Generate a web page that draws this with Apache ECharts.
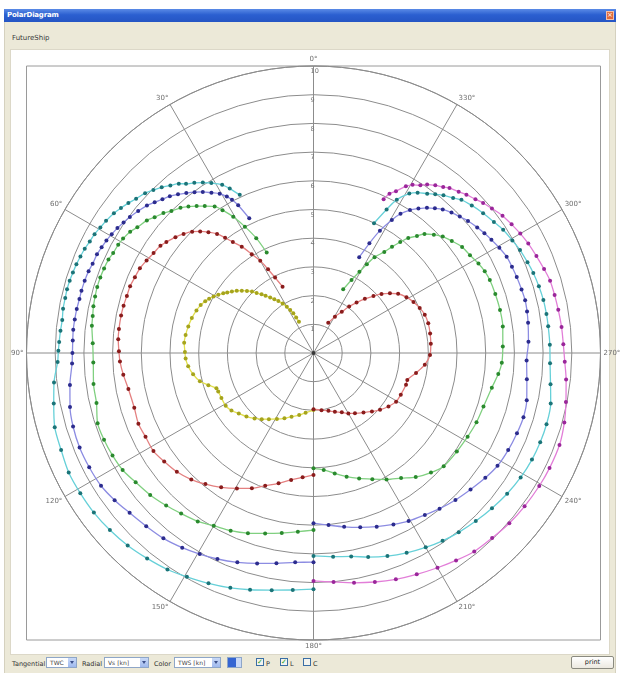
<!DOCTYPE html>
<html>
<head>
<meta charset="utf-8">
<title>PolarDiagram</title>
<script src="https://cdn.jsdelivr.net/npm/echarts@6/dist/echarts.min.js"></script>
<style>
  html, body { margin: 0; padding: 0; width: 620px; height: 673px; overflow: hidden; background: #ffffff;
    font-family: "DejaVu Sans", "Liberation Sans", sans-serif; }
  .abs { position: absolute; }
  #win { left: 4px; top: 9px; width: 612px; height: 664px; background: #ece9d8; border-left: 1px solid #d5d1bf; border-right: 1px solid #d5d1bf; box-sizing: border-box; }
  #titlebar { left: 4px; top: 9px; width: 612px; height: 13px; background: linear-gradient(#5a8ae6, #2b5fd0 45%, #2555c4); }
  #titletext { left: 7px; top: 11px; font-size: 7px; font-weight: bold; color: #ffffff; letter-spacing: -0.2px; }
  #close { left: 606px; top: 11px; width: 8px; height: 9px; background: #e06a3c; border: 1px solid #f4c0a8; box-sizing: border-box; color: #fff; font-size: 7px; line-height: 7px; text-align: center; }
  #ship { left: 12px; top: 34px; font-size: 7px; color: #3a3a3a; }
  #panel { left: 10px; top: 49px; width: 600px; height: 606px; background: #ffffff; border: 1px solid #dcd8c8; box-sizing: border-box; }
  .lbl { font-size: 6.5px; color: #333; top: 660px; }
  .combo { top: 657px; height: 11px; background: #fff; border: 1px solid #8ea6c8; box-sizing: border-box; font-size: 6px; color: #444; line-height: 9px; padding-left: 3px; }
  .combo .btn { position: absolute; right: 0; top: 0; width: 8px; height: 9px; background: linear-gradient(#c9d9f7, #9fb9ee); }
  .combo .btn:after { content: ""; position: absolute; left: 2px; top: 3px; border-left: 2px solid transparent; border-right: 2px solid transparent; border-top: 3px solid #3b4f8a; }
  .chk { top: 658px; width: 8px; height: 8px; border: 1px solid #3a6ea5; box-sizing: border-box; background: #f3f3ee; font-size: 7px; line-height: 6px; color: #21a121; text-align: center; }
  #spin { left: 227px; top: 657px; width: 15px; height: 11px; border: 1px solid #8ea6c8; box-sizing: border-box; background: #fff; }
  #spin .sel { position: absolute; left: 0; top: 0; width: 8px; height: 9px; background: #3565d2; }
  #spin .arr { position: absolute; right: 0; top: 0; width: 5px; height: 9px; background: #c9d9f7; }
  #print { left: 571px; top: 656px; width: 43px; height: 13px; border: 1px solid #8a8a80; border-radius: 2px; box-sizing: border-box; background: linear-gradient(#ffffff, #ece9e0); font-size: 6.5px; line-height: 11px; text-align: center; color: #222; }
  #chart { position: absolute; left: 0; top: 0; width: 620px; height: 673px; z-index: 5; }
</style>
</head>
<body>
<div id="win" class="abs"></div>
<div id="titlebar" class="abs"></div>
<div id="titletext" class="abs">PolarDiagram</div>
<div id="close" class="abs">×</div>
<div id="ship" class="abs">FutureShip</div>
<div id="panel" class="abs"></div>

<div class="abs lbl" style="left:12px;">Tangential</div>
<div class="abs combo" style="left:46px;width:31px;">TWC<div class="btn"></div></div>
<div class="abs lbl" style="left:82px;">Radial</div>
<div class="abs combo" style="left:104px;width:45px;">Vs [kn]<div class="btn"></div></div>
<div class="abs lbl" style="left:154px;">Color</div>
<div class="abs combo" style="left:174px;width:47px;">TWS [kn]<div class="btn"></div></div>
<div id="spin" class="abs"><div class="sel"></div><div class="arr"></div></div>
<div class="abs chk" style="left:256px;">✓</div><div class="abs lbl" style="left:266px;">P</div>
<div class="abs chk" style="left:280px;">✓</div><div class="abs lbl" style="left:290px;">L</div>
<div class="abs chk" style="left:303px;"></div><div class="abs lbl" style="left:313px;">C</div>
<div id="print" class="abs">print</div>

<div id="chart"></div>

<script>
// Polar performance curves: each entry is [true wind angle (deg), boat speed Vs (kn)].
// Port side (0-180 deg), one curve per wind speed.
const portYellow = [[25,1.2],[26,1.38],[27,1.55],[28.5,1.7],[30,1.86],[32,2.03],[34,2.19],[36,2.32],[38,2.45],[40,2.6],[41.5,2.73],[43.5,2.88],[45,3.03],[47,3.17],[49,3.31],[51,3.44],[53,3.56],[55,3.67],[56.5,3.77],[58.5,3.89],[60.5,4.0],[62.5,4.1],[64.5,4.18],[67,4.27],[70,4.34],[74,4.41],[78,4.46],[82,4.5],[85.5,4.52],[89.5,4.48],[92.5,4.46],[96,4.39],[100,4.26],[104,4.08],[107,3.83],[110,3.6],[112,3.58],[116,3.57],[121,3.57],[125,3.49],[129,3.35],[133.5,3.22],[138,3.07],[142,2.93],[146,2.78],[151,2.63],[156,2.49],[161,2.35],[167,2.22],[172.5,2.1],[180,1.99]];
const portRed = [[25,2.55],[27,2.95],[28.5,3.32],[30,3.71],[32,4.06],[34,4.47],[36,4.78],[37.5,5.06],[39,5.34],[41,5.58],[43,5.79],[45,5.98],[47.5,6.14],[50,6.28],[53,6.42],[55,6.51],[58,6.57],[61,6.65],[64,6.73],[67,6.76],[70,6.8],[73,6.8],[76,6.82],[79,6.83],[83,6.83],[86,6.82],[89.5,6.78],[92.5,6.75],[96.5,6.67],[101,6.57],[107,6.53],[112,6.58],[116.5,6.54],[121.5,6.54],[126,6.43],[131,6.31],[136,6.13],[140.5,5.92],[145.5,5.68],[150.5,5.42],[155.5,5.18],[160,4.92],[165,4.7],[170,4.49],[175,4.35],[180,4.25]];
const portGreen = [[25,3.86],[26.5,4.47],[28.5,5.01],[30.5,5.51],[32.5,5.9],[34,6.16],[36.5,6.37],[38.5,6.54],[40.5,6.71],[42.5,6.86],[45,7.0],[47,7.15],[49.5,7.28],[51.5,7.42],[54.5,7.54],[56.5,7.66],[59,7.74],[61,7.78],[63.5,7.8],[65.5,7.85],[68,7.87],[70.5,7.88],[73,7.88],[75.5,7.86],[78,7.84],[80.5,7.8],[83,7.78],[87.5,7.7],[92.5,7.68],[98,7.74],[103,7.76],[108,7.91],[112.5,7.9],[117,7.86],[121.5,7.8],[126,7.66],[131,7.54],[136,7.39],[140.5,7.25],[145.5,7.12],[150,6.95],[155,6.83],[160,6.68],[165,6.51],[170,6.37],[175,6.25],[180,6.17]];
const portBlue = [[25.5,5.2],[27,5.78],[28,6.05],[29,6.23],[30.5,6.44],[32.5,6.62],[34.5,6.81],[36.5,6.97],[38.5,7.12],[40.5,7.27],[42.5,7.41],[44.5,7.51],[46.5,7.63],[48.5,7.75],[51,7.86],[53.5,7.96],[55.5,8.03],[57.5,8.1],[59.5,8.16],[61.5,8.21],[63.5,8.25],[65.5,8.29],[68,8.3],[70,8.34],[72.5,8.36],[75,8.37],[77,8.37],[79.5,8.39],[82,8.4],[84.5,8.41],[87,8.4],[90,8.4],[92.5,8.42],[97.5,8.56],[102.5,8.69],[107,8.76],[112,8.79],[117,8.77],[122,8.73],[126.5,8.62],[131,8.49],[136,8.39],[141,8.31],[146,8.18],[150.5,8.05],[155,7.92],[160,7.76],[165,7.59],[170,7.44],[175,7.32],[180,7.29]];
const portCyan = [[25,6.08],[27,6.43],[28.5,6.67],[31,6.91],[33,7.08],[35,7.24],[37,7.38],[38.5,7.54],[40.5,7.68],[42.5,7.83],[44.5,7.96],[46.5,8.09],[49,8.19],[51,8.3],[53,8.4],[55,8.49],[57.5,8.57],[59.5,8.62],[61.5,8.68],[63.5,8.71],[65.5,8.76],[67.5,8.79],[69.5,8.82],[71.5,8.84],[73.5,8.86],[75.5,8.87],[77.5,8.86],[80,8.86],[82.5,8.83],[85,8.85],[87.5,8.87],[89.5,8.89],[92,8.92],[96.5,9.1],[101,9.22],[106,9.38],[111,9.42],[116,9.49],[121,9.48],[126,9.46],[131,9.4],[136,9.32],[141,9.21],[146,9.1],[150.5,8.96],[155.5,8.82],[160.5,8.68],[165,8.54],[170,8.39],[175,8.29],[180,8.23]];

// Starboard side (180-360 deg), one curve per wind speed.
const stbdRed = [[334,1.17],[329.5,1.47],[325.5,1.74],[322.5,2.04],[319.5,2.31],[316.5,2.6],[313.5,2.88],[311,3.14],[308,3.38],[305,3.6],[301,3.78],[297,3.91],[293,4.02],[289,4.1],[284.5,4.13],[279.5,4.12],[274.5,4.1],[269,4.06],[264,3.9],[259,3.64],[254,3.4],[251,3.41],[244.5,3.37],[239.5,3.34],[234.5,3.21],[229.5,3.05],[225,2.88],[220,2.71],[214.5,2.55],[210,2.43],[205.5,2.29],[200,2.18],[194.5,2.08],[188,2.01],[180,1.96]];
const stbdGreen = [[335,2.45],[332.5,2.87],[330.5,3.25],[329,3.61],[327.5,3.96],[325,4.3],[323.5,4.6],[322,4.91],[320.5,5.19],[318.5,5.44],[317,5.67],[314.5,5.88],[312,6.06],[309,6.2],[305.5,6.36],[302,6.43],[298.5,6.54],[295.5,6.61],[292.5,6.65],[288,6.66],[283,6.67],[278,6.66],[272,6.6],[267,6.57],[263.5,6.48],[259,6.33],[252.5,6.21],[247,6.17],[241.5,6.11],[235.5,6.06],[229,6.01],[224.5,5.84],[219.5,5.6],[215,5.32],[210,5.09],[205,4.85],[200,4.65],[195,4.46],[190,4.26],[185,4.09],[180,4.02]];
const stbdBlue = [[334.5,3.7],[333,4.29],[331.5,4.85],[329.5,5.38],[328,5.72],[326,6.01],[324,6.22],[322,6.42],[320,6.58],[318,6.73],[315.5,6.86],[313,6.97],[310.5,7.08],[307.5,7.19],[305,7.27],[302.5,7.35],[299.5,7.44],[296.5,7.52],[293.5,7.54],[290.5,7.56],[287,7.58],[284,7.6],[281,7.58],[278,7.55],[273,7.5],[268,7.43],[263,7.49],[257.5,7.61],[253,7.65],[248.5,7.62],[243.5,7.58],[238.5,7.52],[234,7.4],[229,7.25],[224,7.12],[219,6.98],[214.5,6.85],[209.5,6.73],[205,6.59],[200,6.44],[195,6.29],[190,6.15],[185,6.02],[180,5.93]];
const stbdCyan = [[335,4.99],[333,5.61],[331.5,6.08],[329,6.48],[327,6.66],[324.5,6.82],[322.5,6.97],[320.5,7.12],[318,7.27],[316,7.42],[313,7.54],[309.5,7.66],[306,7.77],[303,7.88],[299.5,7.96],[296.5,8.04],[293,8.1],[290,8.15],[286.5,8.19],[283,8.22],[279.5,8.23],[276.5,8.23],[272,8.24],[267.5,8.25],[262.5,8.33],[258,8.45],[253,8.49],[248.5,8.49],[244,8.47],[239,8.42],[234,8.34],[229,8.24],[224,8.14],[219,8.04],[214.5,7.94],[210,7.82],[205,7.68],[200,7.53],[195,7.36],[190.5,7.21],[185.5,7.13],[180,7.07]];
const stbdMagenta = [[335.5,5.89],[334.5,6.15],[333,6.33],[331,6.64],[329.5,6.8],[327.5,6.93],[326,7.08],[324,7.22],[322,7.34],[320.5,7.45],[318,7.56],[316,7.67],[313.5,7.78],[311.5,7.89],[309,8.0],[306,8.14],[303,8.23],[300,8.32],[297,8.4],[293.5,8.47],[290,8.55],[287,8.62],[283.5,8.64],[280,8.66],[276,8.69],[272,8.71],[268,8.76],[264,8.85],[259,8.96],[254.5,9.07],[249.5,9.15],[244,9.15],[239.5,9.13],[234,9.09],[229,9.04],[224,8.96],[219,8.9],[214.5,8.77],[210,8.64],[205,8.51],[200,8.39],[195,8.26],[190,8.13],[185,8.01],[180,7.94]];

// Axis ticks
const angleTicks = [0, 30, 60, 90, 120, 150, 180, 210, 240, 270, 300, 330];
const speedTicks = [1, 2, 3, 4, 5, 6, 7, 8, 9, 10];

// Colour per curve: dark markers, lighter connecting line
const palette = {
  yellow:  { dot: '#a6a41c', line: '#e2e04e' },
  red:     { dot: '#8a1c1c', line: '#e48080' },
  green:   { dot: '#2a8a2e', line: '#80d080' },
  blue:    { dot: '#2c2c8e', line: '#8c8ce2' },
  cyan:    { dot: '#1b7478', line: '#66d0d8' },
  magenta: { dot: '#9a269a', line: '#e27ed8' }
};

const curves = [
  { name: 'port-1', pts: portYellow, col: 'yellow' },
  { name: 'port-2', pts: portRed, col: 'red' },
  { name: 'port-3', pts: portGreen, col: 'green' },
  { name: 'port-4', pts: portBlue, col: 'blue' },
  { name: 'port-5', pts: portCyan, col: 'cyan' },
  { name: 'stbd-1', pts: stbdRed, col: 'red' },
  { name: 'stbd-2', pts: stbdGreen, col: 'green' },
  { name: 'stbd-3', pts: stbdBlue, col: 'blue' },
  { name: 'stbd-4', pts: stbdCyan, col: 'cyan' },
  { name: 'stbd-5', pts: stbdMagenta, col: 'magenta' }
];

// Plot geometry
const CX = 313.5, CY = 353, R = 287;
const GRID = '#8c8c8c';

const chart = echarts.init(document.getElementById('chart'), null, { renderer: 'canvas' });

const series = curves.map(c => ({
  name: c.name,
  type: 'line',
  coordinateSystem: 'polar',
  data: c.pts.map(p => [p[1], p[0]]),
  smooth: 0.3,
  symbol: 'circle',
  symbolSize: 4,
  showSymbol: true,
  itemStyle: { color: palette[c.col].dot },
  lineStyle: { color: palette[c.col].line, width: 1.3 },
  emphasis: { disabled: true },
  silent: true,
  z: 3
}));

// origin marker
series.push({
  type: 'scatter', coordinateSystem: 'polar', data: [[0, 0]],
  symbolSize: 4, itemStyle: { color: '#222' }, silent: true, z: 4
});

chart.setOption({
  animation: false,
  backgroundColor: 'transparent',
  graphic: [{
    type: 'rect', silent: true, z: 0,
    shape: { x: CX - R, y: CY - R, width: 2 * R, height: 2 * R },
    style: { fill: null, stroke: '#9a9a9a', lineWidth: 1 }
  }],
  polar: { center: [CX, CY], radius: R },
  angleAxis: {
    type: 'value', min: 0, max: 360, interval: 30,
    startAngle: 90, clockwise: false,
    axisLine: { show: true, lineStyle: { color: GRID, width: 1 } },
    axisTick: { show: false },
    axisLabel: {
      show: true, margin: 3, fontSize: 7, color: '#6e6e6e', fontFamily: 'DejaVu Sans',
      showMaxLabel: false,
      formatter: v => angleTicks.includes(v) ? v + '°' : ''
    },
    splitLine: { show: true, lineStyle: { color: GRID, width: 1 } }
  },
  radiusAxis: {
    type: 'value', min: 0, max: 10, interval: 1,
    axisLine: { show: false },
    axisTick: { show: false },
    axisLabel: {
      show: true, inside: true, margin: 3, align: 'left', verticalAlign: 'top',
      padding: [2, 0, 0, 0],
      fontSize: 6.5, color: '#777', fontFamily: 'DejaVu Sans', showMinLabel: false,
      formatter: v => speedTicks.includes(v) ? String(v) : ''
    },
    splitLine: { show: true, lineStyle: { color: GRID, width: 1 } }
  },
  series: series
});
</script>
</body>
</html>
